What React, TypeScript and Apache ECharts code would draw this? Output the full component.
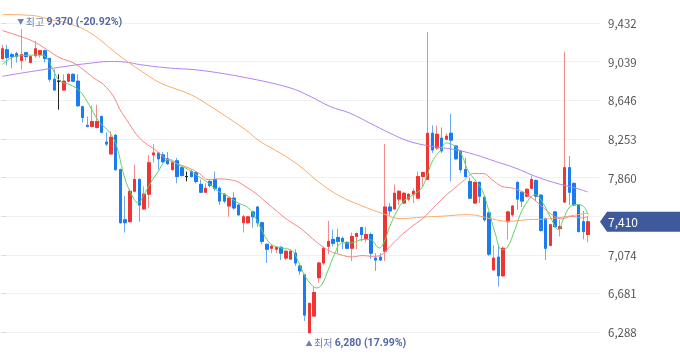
import React, { useEffect, useRef } from 'react';
import * as echarts from 'echarts';

// candle data: [open, close, low, high]
const candles: number[][] = [
  [9070, 9170, 9060, 9210], [9160, 9080, 9000, 9210], [9110, 9090, 8970, 9130], [9120, 9090, 9030, 9140],
  [9050, 9110, 8960, 9370], [9130, 9090, 9050, 9140], [9030, 9090, 9020, 9100], [9100, 9170, 9080, 9250],
  [9110, 9150, 9080, 9160], [9150, 9070, 9030, 9160], [9070, 8860, 8830, 9080], [8860, 8750, 8740, 8960],
  [8840, 8840, 8550, 8910], [8750, 8840, 8740, 8910], [8840, 8910, 8830, 8920], [8910, 8840, 8830, 8920],
  [8840, 8590, 8580, 8910], [8580, 8470, 8420, 8590], [8390, 8380, 8370, 8480], [8380, 8430, 8370, 8590],
  [8370, 8430, 8360, 8600], [8480, 8320, 8310, 8490], [8220, 8200, 8180, 8320], [8100, 8270, 8090, 8330],
  [8290, 7940, 7930, 8300], [7940, 7400, 7390, 7950], [7430, 7400, 7300, 7670], [7410, 7720, 7400, 7740],
  [7720, 7840, 7710, 7990], [7840, 7580, 7410, 7850], [7540, 7690, 7530, 7770], [7690, 8010, 7550, 8090],
  [8090, 8110, 8010, 8200], [8110, 8050, 7940, 8120], [8090, 8020, 8010, 8120], [8050, 8000, 7990, 8120],
  [7940, 8010, 7930, 8030], [8030, 7870, 7800, 8060], [7960, 7880, 7870, 7970], [7870, 7870, 7820, 7920],
  [7920, 7870, 7860, 7940], [7910, 7820, 7800, 7920], [7790, 7710, 7700, 7840], [7710, 7750, 7700, 7800],
  [7820, 7780, 7760, 7840], [7840, 7750, 7720, 7920], [7750, 7620, 7580, 7770], [7690, 7620, 7600, 7700],
  [7570, 7650, 7460, 7650], [7650, 7550, 7530, 7710], [7580, 7480, 7470, 7590], [7400, 7460, 7300, 7480],
  [7400, 7460, 7390, 7470], [7510, 7460, 7350, 7520], [7560, 7400, 7360, 7570], [7400, 7210, 7180, 7410],
  [7180, 7130, 6990, 7190], [7140, 7160, 7090, 7180], [7130, 7150, 7090, 7160], [7150, 7090, 7020, 7160],
  [7040, 7110, 7020, 7120], [7030, 7110, 7020, 7120], [7090, 6990, 6960, 7130], [6960, 6910, 6870, 6970],
  [6870, 6460, 6400, 6880], [6280, 6580, 6280, 6580], [6450, 6690, 6450, 6750], [6840, 6990, 6790, 7000],
  [6990, 7140, 6970, 7160], [7160, 7210, 7080, 7420], [7230, 7190, 7160, 7330], [7250, 7210, 7090, 7340],
  [7240, 7210, 7130, 7260], [7200, 7140, 7130, 7210], [7140, 7260, 7010, 7300], [7260, 7290, 7130, 7300],
  [7350, 7280, 7210, 7360], [7240, 7280, 7200, 7360], [7280, 7090, 7030, 7300], [7040, 7020, 6910, 7090],
  [7050, 7020, 7010, 7090], [7110, 7560, 7010, 8200], [7560, 7520, 7470, 7600], [7540, 7700, 7530, 7790],
  [7640, 7720, 7580, 7730], [7600, 7700, 7590, 7710], [7640, 7690, 7620, 7700], [7690, 7720, 7600, 7750],
  [7650, 7870, 7640, 7920], [7870, 7910, 7770, 7920], [7840, 8310, 7840, 9340], [8310, 8140, 8110, 8390],
  [8160, 8300, 8140, 8390], [8260, 8130, 8110, 8370], [8250, 8280, 8240, 8310], [8310, 8240, 7820, 8510],
  [8180, 8050, 8040, 8190], [8130, 7940, 7910, 8140], [7940, 7870, 7860, 8060], [7820, 7650, 7640, 7860],
  [7600, 7810, 7590, 7820], [7810, 7670, 7600, 7820], [7660, 7430, 7410, 7670], [7500, 7080, 7060, 7510],
  [6920, 7040, 6910, 7170], [7050, 6860, 6750, 7160], [6860, 7140, 6850, 7160], [7410, 7510, 7230, 7520],
  [7480, 7570, 7460, 7580], [7810, 7640, 7530, 7820], [7710, 7620, 7560, 7720], [7670, 7740, 7660, 7750],
  [7750, 7840, 7740, 7880], [7830, 7670, 7620, 7840], [7680, 7320, 7310, 7690], [7440, 7140, 7020, 7450],
  [7170, 7380, 7160, 7390], [7510, 7360, 7350, 7520], [7340, 7360, 7260, 7430], [7610, 7960, 7600, 9140],
  [7960, 7710, 7580, 8080], [7800, 7580, 7570, 7810], [7580, 7310, 7300, 7590], [7410, 7310, 7230, 7520],
  [7280, 7410, 7200, 7460],
];
const dojiIndices = [12, 39];
const emptySlots = 2;
const categories = Array.from({ length: candles.length + emptySlots }, (_, i) => String(i + 1));

// moving averages: [candle index, price]
const ma5: number[][] = [
  [0, 9010], [3, 9095], [8, 9106], [9.4, 9078], [10.7, 8958], [12.2, 8839], [14.3, 8806], [16.4, 8738],
  [17.9, 8636], [19.3, 8518], [20.7, 8416], [22.8, 8314], [24.2, 8178], [25.6, 7907], [27, 7720], [28.8, 7601],
  [29.8, 7669], [31.4, 7808], [33, 7923], [34.4, 8025], [35.5, 8042], [37.2, 7991], [39.4, 7940], [41.5, 7872],
  [43.6, 7805], [45.7, 7720], [47.8, 7669], [49.9, 7601], [52.1, 7551], [53.8, 7431], [55.6, 7261], [57, 7177],
  [59.1, 7143], [61.2, 7119], [62.3, 7041], [63.7, 6889], [65.1, 6787], [66.5, 6736], [67.6, 6770], [69, 6922],
  [70.4, 7092], [71.8, 7194], [73.9, 7194], [76.1, 7228], [77.8, 7228], [79.8, 7143], [81, 7228], [82, 7363],
  [83.5, 7516], [84.9, 7618], [87, 7686], [88.8, 7754], [89.8, 7872], [91.2, 8042], [92.6, 8127], [94, 8212],
  [95.8, 8178], [97.2, 8093], [98.6, 7923], [100, 7839], [101.5, 7737], [102.9, 7533], [104.3, 7296], [105.7, 7126],
  [106.8, 7143], [108.5, 7330], [109.9, 7516], [111.7, 7652], [112.8, 7686], [114.2, 7618], [115.9, 7465], [117.7, 7330],
  [118.7, 7431], [120.2, 7567], [121.6, 7584], [123, 7567], [124, 7482],
];
const ma20: number[][] = [
  [0, 9355], [3.7, 9297], [6.5, 9246], [9.4, 9162], [12.2, 9078], [15, 9027], [17.1, 8958], [19.3, 8874],
  [21.4, 8806], [23.5, 8687], [24.9, 8551], [26.3, 8449], [28.4, 8297], [30.2, 8212], [32.3, 8144], [34.4, 8060],
  [36.5, 8009], [39.4, 7958], [41.5, 7907], [43.6, 7839], [45.7, 7846], [47.8, 7839], [49.6, 7821], [51.4, 7770],
  [53.5, 7703], [55.6, 7618], [57.7, 7533], [59.8, 7449], [61.9, 7381], [63, 7347], [65.1, 7261], [67.2, 7177],
  [69.4, 7109], [71.5, 7075], [74, 7052], [76.1, 7065], [78.5, 7058], [80.3, 7075], [82.1, 7160], [84.2, 7261],
  [86.3, 7347], [89.1, 7449], [91.2, 7550], [93.7, 7669], [95.8, 7754], [97.9, 7839], [99.7, 7900], [101.8, 7900],
  [103.6, 7839], [105.7, 7770], [107.8, 7754], [109.9, 7720], [112.1, 7652], [114.2, 7567], [116.3, 7482], [118.4, 7439],
  [120.5, 7465], [122.6, 7449], [124, 7465],
];
const ma60: number[][] = [
  [0, 9518], [6.5, 9508], [10.1, 9467], [13.6, 9434], [18.6, 9332], [24.9, 9094], [29.1, 8953], [33.4, 8823],
  [39, 8721], [41.8, 8653], [51.4, 8348], [54.5, 8228], [58.8, 8110], [63, 7974], [67.2, 7805], [71.5, 7669],
  [75.7, 7579], [80.6, 7492], [84.2, 7442], [89, 7457], [92.6, 7465], [98.6, 7482], [103.6, 7439], [107, 7414],
  [111.3, 7431], [115.5, 7439], [119.7, 7465], [124, 7500],
];
const ma120: number[][] = [
  [0, 8890], [6.5, 8941], [13.6, 8992], [17.9, 9019], [22.8, 9040], [26.3, 9033], [29.1, 9009], [34.8, 8976],
  [41.8, 8951], [51.4, 8877], [60.9, 8772], [65.1, 8687], [69.4, 8582], [73.6, 8514], [77.8, 8413], [82.1, 8310],
  [85.6, 8236], [89.1, 8192], [92.6, 8165], [95.8, 8144], [100, 8093], [104.3, 8025], [108.5, 7958], [112.8, 7872],
  [117, 7805], [121.2, 7754], [123.9, 7713],
];

const yMin = 6288;
const yMax = 9432;
const yStep = 393;

const RED = '#ef3434';
const BLUE = '#1a7cf0';
const RED_WICK = '#f58a8a';
const BLUE_WICK = '#6aaaf5';
const FONT = "'Noto Sans CJK KR', 'Noto Sans', sans-serif";

const GRID_LEFT = 0;
const GRID_TOP = 23;
const GRID_W = 600;
const GRID_H = 309;

export default function App() {
  const ref = useRef<HTMLDivElement>(null);
  useEffect(() => {
    const chart = echarts.init(ref.current!, null, { renderer: 'svg' });
    const withDoji = (arr: any[]) =>
      arr.map((v, i) =>
        dojiIndices.includes(i)
          ? { value: v, itemStyle: { color: '#222', color0: '#222', borderColor: '#222', borderColor0: '#222' } }
          : v
      );
    const bodies = candles.map(([o, c]) => [o, c, Math.min(o, c), Math.max(o, c)]);
    const lineSeries = (data: number[][], color: string) => ({
      type: 'line',
      xAxisIndex: 1,
      yAxisIndex: 0,
      data,
      smooth: 0.4,
      showSymbol: false,
      symbol: 'none',
      clip: false,
      z: 5,
      lineStyle: { color, width: 1 },
      silent: true,
    });
    chart.setOption({
      animation: false,
      grid: { left: GRID_LEFT, top: GRID_TOP, width: GRID_W, height: GRID_H },
      xAxis: [
        { type: 'category', data: categories, boundaryGap: true, show: false },
        { type: 'value', min: -0.5, max: categories.length - 0.5, show: false },
      ],
      yAxis: {
        type: 'value',
        position: 'right',
        min: yMin,
        max: yMax,
        interval: yStep,
        axisLine: { show: false },
        axisTick: { show: true, length: 4, lineStyle: { color: '#d8d8d8' } },
        splitLine: { show: true, lineStyle: { color: '#f0f1f5' } },
        axisLabel: {
          color: '#555',
          fontSize: 11.5,
          fontFamily: FONT,
          margin: 8,
          formatter: (v: number) => v.toLocaleString('en-US'),
        },
      },
      series: [
        {
          type: 'candlestick',
          data: withDoji(candles),
          barWidth: 3,
          clip: false,
          z: 2,
          itemStyle: { color: RED_WICK, color0: BLUE_WICK, borderColor: RED_WICK, borderColor0: BLUE_WICK, borderWidth: 1 },
        },
        {
          type: 'candlestick',
          data: withDoji(bodies),
          barWidth: 3,
          clip: false,
          z: 3,
          itemStyle: { color: RED, color0: BLUE, borderColor: RED, borderColor0: BLUE, borderWidth: 1 },
        },
        lineSeries(ma120, '#b381f5'),
        lineSeries(ma60, '#fbab68'),
        lineSeries(ma20, '#f58484'),
        lineSeries(ma5, '#5fd35f'),
      ],
    });

    const highs = candles.map((c) => c[3]);
    const lows = candles.map((c) => c[2]);
    const maxVal = Math.max(...highs);
    const minVal = Math.min(...lows);
    const maxIdx = highs.indexOf(maxVal);
    const minIdx = lows.indexOf(minVal);
    const last = candles[candles.length - 1][1];
    const pctMax = ((last / maxVal - 1) * 100).toFixed(2);
    const pctMin = ((last / minVal - 1) * 100).toFixed(2);
    const pMax = chart.convertToPixel({ seriesIndex: 2 }, [maxIdx, maxVal]) as number[];
    const pMin = chart.convertToPixel({ seriesIndex: 2 }, [minIdx, minVal]) as number[];
    const yLast = chart.convertToPixel({ yAxisIndex: 0 }, last) as number;
    const fmt = (v: number) => v.toLocaleString('en-US');
    const rich = {
      t: { fontSize: 7, fontFamily: FONT, fill: '#6f7fb3' },
      a: { fontSize: 10, fontFamily: FONT, fill: '#6f7fb3' },
      b: { fontSize: 10.5, fontFamily: "Roboto, 'Noto Sans', sans-serif", fontWeight: 'bold', fill: '#5568a3' },
    };
    const right = GRID_LEFT + GRID_W;
    chart.setOption({
      graphic: [
        {
          type: 'text',
          x: pMax[0] - 4,
          y: pMax[1] - 8,
          z: 100,
          style: {
            text: `{t|▼ }{a|최고 }{b|${fmt(maxVal)} (${pctMax}%)}`,
            rich,
            verticalAlign: 'middle',
            align: 'left',
          },
        },
        {
          type: 'text',
          x: pMin[0] - 4,
          y: pMin[1] + 10,
          z: 100,
          style: {
            text: `{t|▲ }{a|최저 }{b|${fmt(minVal)} (${pctMin}%)}`,
            rich,
            verticalAlign: 'middle',
            align: 'left',
          },
        },
        {
          type: 'polygon',
          z: 100,
          shape: {
            points: [
              [right, yLast],
              [right + 7, yLast - 10],
              [680, yLast - 10],
              [680, yLast + 10],
              [right + 7, yLast + 10],
            ],
          },
          style: { fill: '#3f5a9a' },
        },
        {
          type: 'text',
          x: right + 8,
          y: yLast,
          z: 101,
          style: {
            text: fmt(last),
            fill: '#fff',
            fontSize: 12,
            fontFamily: FONT,
            verticalAlign: 'middle',
            align: 'left',
          },
        },
      ],
    });
    return () => chart.dispose();
  }, []);
  return <div ref={ref} style={{ position: 'fixed', left: 0, top: 0, width: 680, height: 358 }} />;
}
